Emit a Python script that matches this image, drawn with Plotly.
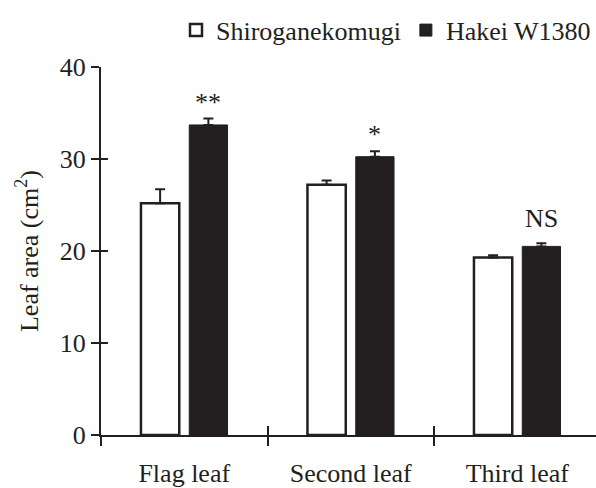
import plotly.graph_objects as go

# Leaf area per leaf position for the two cultivars (mean and SE)
leaves = ["Flag leaf", "Second leaf", "Third leaf"]
shiro_mean = [25.2, 27.2, 19.3]
shiro_se = [1.5, 0.45, 0.25]
hakei_mean = [33.7, 30.25, 20.5]
hakei_se = [0.7, 0.6, 0.35]
signif = ["**", "*", "NS"]
y_ticks = [0, 10, 20, 30, 40]

INK = "#231f20"
FONT = "Liberation Serif, Times New Roman, serif"
x_pos = list(range(len(leaves)))
x_range = [-0.5, 2.473]
bounds = [-0.5, 0.5, 1.5, 2.5]

fig = go.Figure()
fig.add_trace(go.Bar(
    name="Shiroganekomugi", x=x_pos, y=shiro_mean,
    marker=dict(color="white", line=dict(color=INK, width=2.5)),
    error_y=dict(type="data", array=shiro_se, arrayminus=[0] * 3,
                 symmetric=False, color=INK, thickness=2, width=5),
))
fig.add_trace(go.Bar(
    name="Hakei W1380", x=x_pos, y=hakei_mean,
    marker=dict(color=INK, line=dict(color=INK, width=1)),
    error_y=dict(type="data", array=hakei_se, arrayminus=[0] * 3,
                 symmetric=False, color=INK, thickness=2, width=5),
))

# empty traces so the tick-only overlay axes get drawn
for xa, ya in [("x2", "y"), ("x3", "y"), ("x", "y2")]:
    fig.add_trace(go.Scatter(x=[None], y=[None], xaxis=xa, yaxis=ya,
                             mode="markers", showlegend=False,
                             hoverinfo="skip"))

# significance marks above the Hakei W1380 bars
for i, s in enumerate(signif):
    fig.add_annotation(
        x=x_pos[i], y=hakei_mean[i] + hakei_se[i], xref="x", yref="y",
        text=s, showarrow=False, xshift=24, yanchor="bottom",
        yshift=0 if "*" in s else 8,
        font=dict(family=FONT, size=26, color=INK),
    )

axis_font = dict(family=FONT, size=26, color=INK)
fig.update_layout(
    width=596, height=488,
    margin=dict(l=101, r=0, t=67, b=46),
    paper_bgcolor="white", plot_bgcolor="white",
    barmode="group", bargap=0.42, bargroupgap=0.207,
    font=axis_font,
    showlegend=True,
    legend=dict(orientation="h", x=1.0, xanchor="right", y=1.1, yanchor="middle",
                font=dict(family=FONT, size=26, color=INK),
                itemwidth=30, tracegroupgap=0, bgcolor="rgba(0,0,0,0)"),
    xaxis=dict(range=x_range, tickvals=x_pos, ticktext=leaves,
               ticks="outside", ticklen=14, tickcolor="rgba(0,0,0,0)",
               showline=True, linecolor=INK, linewidth=2,
               showgrid=False, zeroline=False, tickfont=axis_font),
    xaxis2=dict(range=x_range, overlaying="x", anchor="y", side="bottom",
                tickvals=bounds, ticks="outside", ticklen=10, tickwidth=2,
                tickcolor=INK, showticklabels=False, showgrid=False,
                zeroline=False, showline=False),
    xaxis3=dict(range=x_range, overlaying="x", anchor="y", side="bottom",
                tickvals=bounds, ticks="inside", ticklen=9, tickwidth=2,
                tickcolor=INK, showticklabels=False, showgrid=False,
                zeroline=False, showline=False),
    yaxis=dict(range=[0, 40], tickvals=y_ticks, ticks="outside", ticklen=8,
               tickwidth=2, tickcolor=INK, showline=True, linecolor=INK,
               linewidth=2, showgrid=False, zeroline=False, tickfont=axis_font,
               title=dict(text="Leaf area (cm<sup>2</sup>)", font=axis_font,
                          standoff=14)),
    yaxis2=dict(range=[0, 40], overlaying="y", anchor="x", side="left",
                tickvals=y_ticks, ticks="inside", ticklen=7, tickwidth=2,
                tickcolor=INK, showticklabels=False, showgrid=False,
                zeroline=False, showline=False),
)

fig.write_html("out.html")
